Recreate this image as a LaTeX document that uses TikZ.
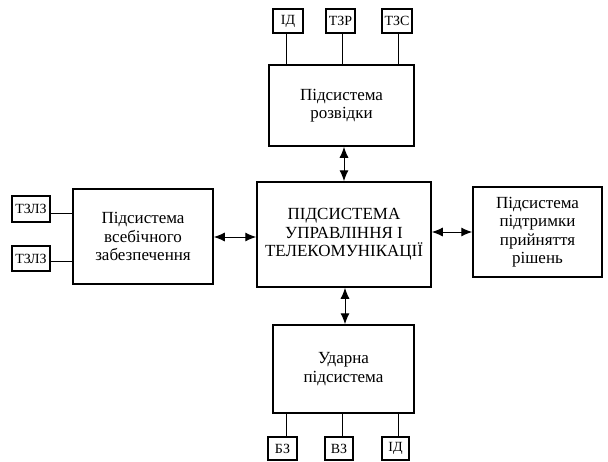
\documentclass[tikz,border=0pt]{standalone}
\usepackage{fontspec}
\setmainfont{Liberation Serif}
\usetikzlibrary{arrows.meta}
\begin{document}
\begin{tikzpicture}[x=1pt,y=-1pt,
        block/.style={draw,line width=1.5pt,align=center,inner sep=0pt,
          font=\fontsize{17}{18.5}\selectfont},
        small/.style={draw,line width=1.5pt,inner sep=0pt,minimum height=24pt,
          font=\fontsize{14}{15}\selectfont},
        link/.style={line width=0.9pt},
        both/.style={line width=1pt,{Latex[length=11pt,width=9pt]}-{Latex[length=11pt,width=9pt]}}]
        \useasboundingbox (0,0) rectangle (608,461);
        % central block and subsystems
        \node[block,minimum width=174pt,minimum height=105pt] (upr) at (344,234.5)
          {ПІДСИСТЕМА\\УПРАВЛІННЯ І\\ТЕЛЕКОМУНІКАЦІЇ};
        \node[block,minimum width=145pt,minimum height=81pt] (rozv) at (341.5,105.5)
          {Підсистема\\розвідки};
        \node[block,minimum width=140pt,minimum height=95pt] (zab) at (143,236.5)
          {Підсистема\\всебічного\\забезпечення};
        \node[block,minimum width=129pt,minimum height=90pt] (rish) at (537.5,232)
          {Підсистема\\підтримки\\прийняття\\рішень};
        \node[block,minimum width=141pt,minimum height=88pt] (udar) at (343.5,369)
          {Ударна\\підсистема};
        % small boxes
        \node[small,minimum width=30pt] (id1) at (288,21) {ІД};
        \node[small,minimum width=29pt] (tzr) at (340.5,21) {ТЗР};
        \node[small,minimum width=30pt] (tzs) at (397,21) {ТЗС};
        \node[small,minimum width=38pt,minimum height=26pt] (tzlz1) at (31,209) {ТЗЛЗ};
        \node[small,minimum width=38pt,minimum height=25pt] (tzlz2) at (31,258.5) {ТЗЛЗ};
        \node[small,minimum width=29pt,minimum height=23pt] (bz) at (282.5,448.5) {БЗ};
        \node[small,minimum width=28pt,minimum height=23pt] (vz) at (339,448.5) {ВЗ};
        \node[small,minimum width=27pt,minimum height=23pt] (id2) at (395.5,448.5) {ІД};
        % links to small boxes
        \draw[link] (286,33) coordinate (a1) -- (a1 |- rozv.north);
        \draw[link] (342,33) coordinate (a2) -- (a2 |- rozv.north);
        \draw[link] (398,33) coordinate (a3) -- (a3 |- rozv.north);
        \draw[link] (50,213) coordinate (b1) -- (b1 -| zab.west);
        \draw[link] (50,261) coordinate (b2) -- (b2 -| zab.west);
        \draw[link] (286,437) coordinate (c1) -- (c1 |- udar.south);
        \draw[link] (342,437) coordinate (c2) -- (c2 |- udar.south);
        \draw[link] (398,437) coordinate (c3) -- (c3 |- udar.south);
        % arrows to the central block
        \draw[both] (344,0 |- rozv.south) coordinate (d1) -- (d1 |- upr.north);
        \draw[both] (zab.east |- 0,237) coordinate (d2) -- (d2 -| upr.west);
        \draw[both] (upr.east |- 0,232) coordinate (d3) -- (d3 -| rish.west);
        \draw[both] (345,0 |- upr.south) coordinate (d4) -- (d4 |- udar.north);
      \end{tikzpicture}
\end{document}
